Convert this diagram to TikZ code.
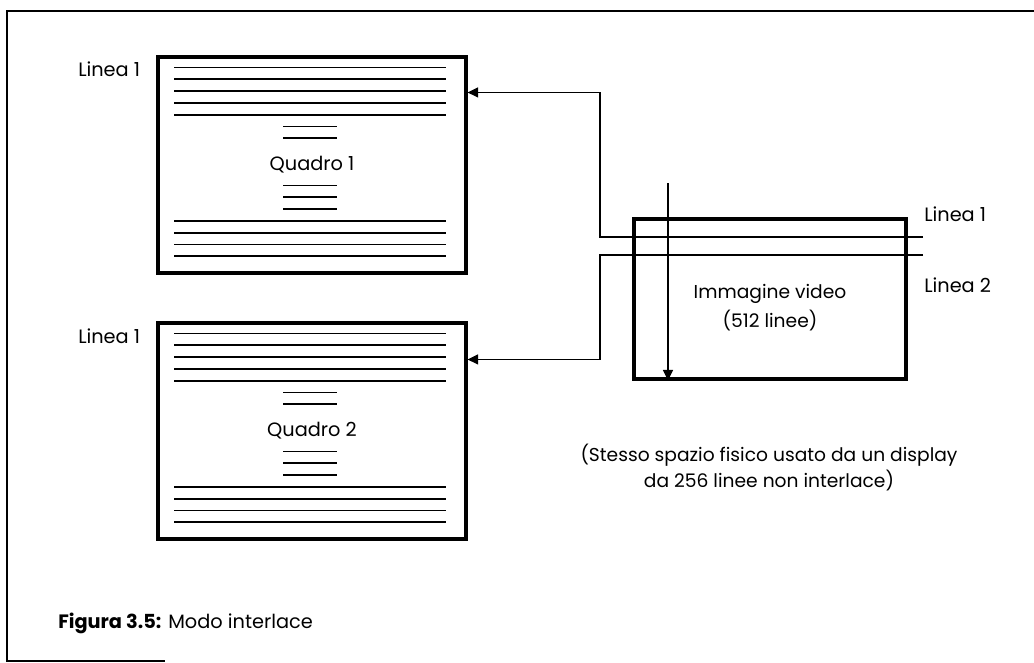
\documentclass[tikz,border=0pt]{standalone}
\usepackage{fontspec}
\setmainfont{Poppins}
\usepackage{tikz}
\usetikzlibrary{arrows.meta, positioning, calc}

\tikzset{
  quadro/.style={draw, line width=2.3pt, minimum width=231pt, minimum height=162pt, inner sep=0pt},
  riga/.style={line width=1.3pt},
  conn/.style={line width=1.1pt},
  etichetta/.style={anchor=west, inner sep=0pt},
  cornice/.style={line width=1.2pt}
}
% righe di scansione dentro un quadro
\newcommand{\righe}[1]{%
  \begin{scope}[shift={(#1.north west)}]
    \foreach \r in {0,...,4} \draw[riga] (18,12+11.8*\r) -- (290,12+11.8*\r);
    \foreach \r in {5,6} \draw[riga] (127,12+11.8*\r) -- (181,12+11.8*\r);
    \foreach \r in {0,...,2} \draw[riga] (127,130+11.8*\r) -- (181,130+11.8*\r);
    \foreach \r in {3,...,6} \draw[riga] (18,130+11.8*\r) -- (290,130+11.8*\r);
  \end{scope}}

\begin{document}
\begin{tikzpicture}[x=0.75pt, y=-0.75pt, >={Triangle[length=8pt, width=7.5pt]}, font=\fontsize{14.5}{17}\selectfont]
    \useasboundingbox (0,0) rectangle (1034,663);
    \draw[cornice] (1034,11) -- (7,11) -- (7,661) -- (165,661);

    \node[quadro] (q1) at (312,165) {Quadro 1};
    \node[quadro] (q2) at (312,431) {Quadro 2};
    \righe{q1}
    \righe{q2}
    \node[etichetta] (lab1) at (78,69) {Linea 1};
    \node[etichetta] (lab2) at (78,336) {Linea 1};

    \node[quadro, minimum width=204pt, minimum height=120pt] (vid) at (770,299) {};
    \node[align=center, font=\fontsize{14}{21.75}\selectfont] (vtxt) at (770,308) {Immagine video\\(512 linee)};
    \coordinate (l1e) at (923,237);
    \coordinate (l2e) at (923,255);
    \coordinate (vtop) at (668,183);
    \node[etichetta] (ll1) at (924,214) {Linea 1};
    \node[etichetta] (ll2) at (924,285) {Linea 2};

    \draw[conn, ->] (l1e) -- (600,237) |- ($(q1.north east)+(0,37)$);
    \draw[conn, ->] (l2e) -- (600,255) |- ($(q2.north east)+(0,38)$);
    \draw[conn, ->] (vtop) -- (vtop |- vid.south);

    \node[align=center, font=\fontsize{14}{19.5}\selectfont] (nota) at (769,468) {(Stesso spazio fisico usato da un display\\da 256 linee non interlace)};
    \node[etichetta] (didasc) at (58,623) {\textbf{Figura 3.5:} Modo interlace};
\end{tikzpicture}
\end{document}
